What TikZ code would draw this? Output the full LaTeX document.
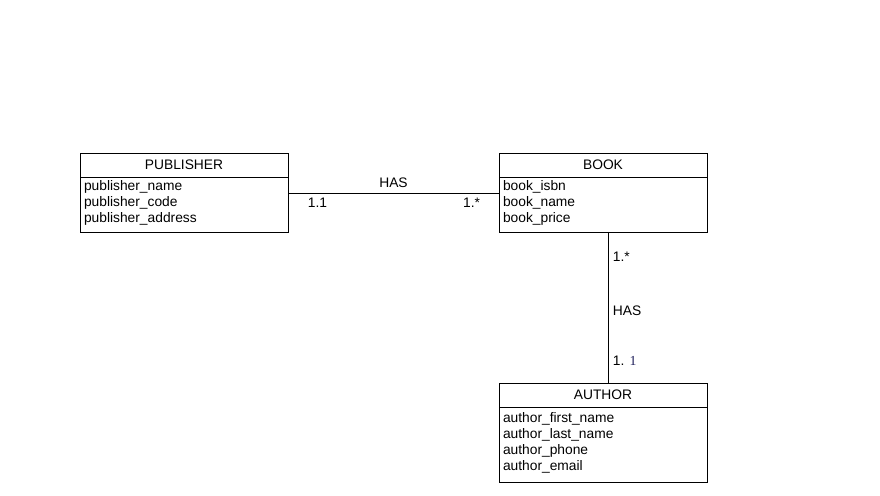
\documentclass[tikz,border=0pt]{standalone}
\usepackage{fontspec}
\setmainfont{Liberation Sans}
\newfontfamily\serifone{Liberation Serif}
\usepackage{tikz}
\usetikzlibrary{positioning}
\definecolor{onecol}{RGB}{30,30,90}
\tikzstyle{line} = [draw=black, line width=0.8pt]
\tikzstyle{entity} = [draw, line width=0.8pt, outer sep=0pt, minimum width=208pt, minimum height=24pt, inner sep=0pt, anchor=north west]
\tikzstyle{attrs} = [draw, line width=0.8pt, outer sep=0pt, text width=200pt, inner xsep=4pt, inner ysep=0pt, align=left, execute at end node={\endgraf\vspace{2.5pt}}]
\tikzstyle{lbl} = [inner sep=2pt]

\begin{document}
\begin{tikzpicture}[x=1pt, y=1pt, font=\fontsize{13.8}{16}\selectfont]
          \useasboundingbox (0,0) rectangle (880,495);
          \node[entity] at (80,342) (pub) {PUBLISHER};
          \node[attrs, minimum height=55pt, below=0pt of pub] (pubattr) {publisher\_name\\publisher\_code\\publisher\_address};

          \node[entity] at (499,342) (book) {BOOK};
          \node[attrs, minimum height=55pt, below=0pt of book] (bookattr) {book\_isbn\\book\_name\\book\_price};

          \node[entity] at (499,112) (author) {AUTHOR};
          \node[attrs, minimum height=75pt, below=0pt of author] (authorattr) {author\_first\_name\\author\_last\_name\\author\_phone\\author\_email};

          \draw[line] ([yshift=11.5pt]pubattr.east) -- ([yshift=11.5pt]bookattr.west)
            node[lbl, midway, above=3pt]{HAS}
            node[lbl, pos=0.14, below=3pt]{1.1}
            node[lbl, pos=0.87, below=3pt]{1.*};
          \draw[line] ([xshift=5.5pt]bookattr.south) -- ([xshift=5.5pt]author.north)
            node[lbl, pos=0.165, right=2pt]{1.*}
            node[lbl, pos=0.52, right=2pt]{HAS}
            node[lbl, pos=0.85, right=2pt]{1. {\serifone\color{onecol}1}};
        \end{tikzpicture}
\end{document}
